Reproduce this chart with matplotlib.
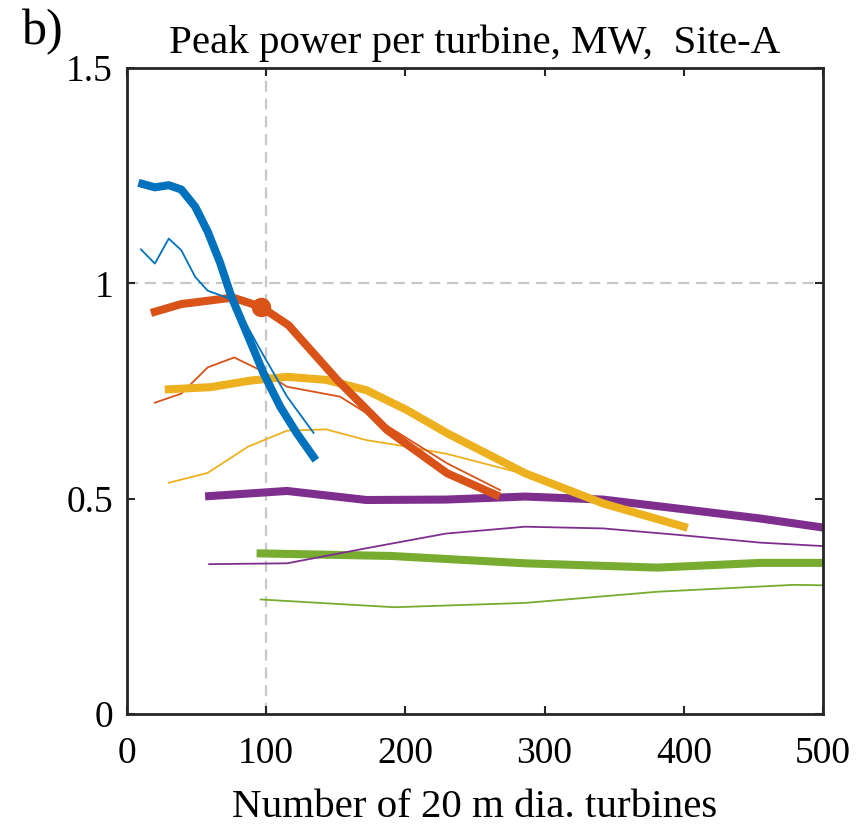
import matplotlib.pyplot as plt

plt.rcParams['font.family'] = ['Liberation Serif', 'DejaVu Serif']

# blue
blue_thick_x = [11, 20, 30, 39, 49, 58, 67, 75, 86, 98, 110, 122, 134]
blue_thick_y = [1.231, 1.223, 1.228, 1.218, 1.178, 1.120, 1.047, 0.969, 0.885, 0.792, 0.714, 0.652, 0.597]
blue_thin_x = [10, 20, 30, 39, 49, 58, 76, 95, 115, 134]
blue_thin_y = [1.079, 1.046, 1.104, 1.077, 1.015, 0.983, 0.962, 0.850, 0.737, 0.653]

# orange
orange_thick_x = [20, 39, 76, 96, 116, 151, 187, 230, 265]
orange_thick_y = [0.934, 0.952, 0.967, 0.946, 0.903, 0.776, 0.659, 0.559, 0.509]
orange_thin_x = [20, 39, 58, 77, 98, 115, 153, 184, 230, 268]
orange_thin_y = [0.723, 0.744, 0.805, 0.828, 0.795, 0.760, 0.737, 0.675, 0.582, 0.520]
orange_marker = (96, 0.946)

# yellow
yellow_thick_x = [30, 60, 88, 115, 143, 172, 201, 230, 286, 342, 400]
yellow_thick_y = [0.754, 0.759, 0.774, 0.783, 0.776, 0.752, 0.706, 0.652, 0.559, 0.489, 0.435]
yellow_thin_x = [30, 58, 87, 115, 143, 172, 201, 230, 280]
yellow_thin_y = [0.537, 0.560, 0.621, 0.658, 0.661, 0.636, 0.621, 0.604, 0.562]

# purple
purple_thick_x = [59, 115, 172, 229, 286, 342, 396, 455, 500]
purple_thick_y = [0.506, 0.518, 0.497, 0.498, 0.505, 0.498, 0.477, 0.454, 0.433]
purple_thin_x = [59, 115, 172, 229, 286, 342, 396, 455, 500]
purple_thin_y = [0.348, 0.350, 0.385, 0.419, 0.435, 0.431, 0.416, 0.398, 0.390]

# green
green_thick_x = [96, 190, 286, 381, 455, 500]
green_thick_y = [0.373, 0.367, 0.350, 0.340, 0.351, 0.351]
green_thin_x = [96, 192, 286, 381, 479, 500]
green_thin_y = [0.266, 0.248, 0.258, 0.284, 0.300, 0.299]

c_blue = '#0072BD'
c_orange = '#D95319'
c_yellow = '#EDB120'
c_purple = '#7E2F8E'
c_green = '#77AC30'

fig = plt.figure(figsize=(8.61, 8.27), dpi=100)
ax = fig.add_axes([0.1475, 0.1366, 0.8084, 0.7811])

# reference lines
ax.axvline(100, color='#c8c8c8', linestyle=(0, (5, 3)), linewidth=1.6, zorder=0)
ax.axhline(1.0, color='#c8c8c8', linestyle=(0, (5, 3)), linewidth=1.6, zorder=0)

thick = 5.8
thin = 1.3
ax.plot(green_thin_x, green_thin_y, color=c_green, lw=thin)
ax.plot(green_thick_x, green_thick_y, color=c_green, lw=thick)
ax.plot(purple_thin_x, purple_thin_y, color=c_purple, lw=thin)
ax.plot(purple_thick_x, purple_thick_y, color=c_purple, lw=thick)
ax.plot(yellow_thin_x, yellow_thin_y, color=c_yellow, lw=thin)
ax.plot(orange_thin_x, orange_thin_y, color=c_orange, lw=thin)
ax.plot(yellow_thick_x, yellow_thick_y, color=c_yellow, lw=thick)
ax.plot(orange_thick_x, orange_thick_y, color=c_orange, lw=thick)
ax.plot(*orange_marker, 'o', color=c_orange, ms=13)
ax.plot(blue_thin_x, blue_thin_y, color=c_blue, lw=thin)
ax.plot(blue_thick_x, blue_thick_y, color=c_blue, lw=thick)

ax.set_xlim(0, 500)
ax.set_ylim(0, 1.5)
ax.set_xticks([0, 100, 200, 300, 400, 500])
ax.set_yticks([0, 0.5, 1, 1.5])
ax.set_yticklabels(['0', '0.5', '1', '1.5'])
ax.tick_params(direction='in', length=6, width=1.5, labelsize=27,
               top=True, right=True, pad=10, colors='#262626', labelcolor='black')
ax.tick_params(axis='x', pad=16)
for s in ax.spines.values():
    s.set_linewidth(2.0)
    s.set_color('#262626')

ax.set_xlabel('Number of 20 m dia. turbines', fontsize=29.5, labelpad=13)
ax.set_title('Peak power per turbine, MW,  Site-A', fontsize=29.5, pad=11)
fig.text(0.025, 0.99, 'b)', fontsize=36, va='top', ha='left')

fig.savefig('out.png', dpi=100)
